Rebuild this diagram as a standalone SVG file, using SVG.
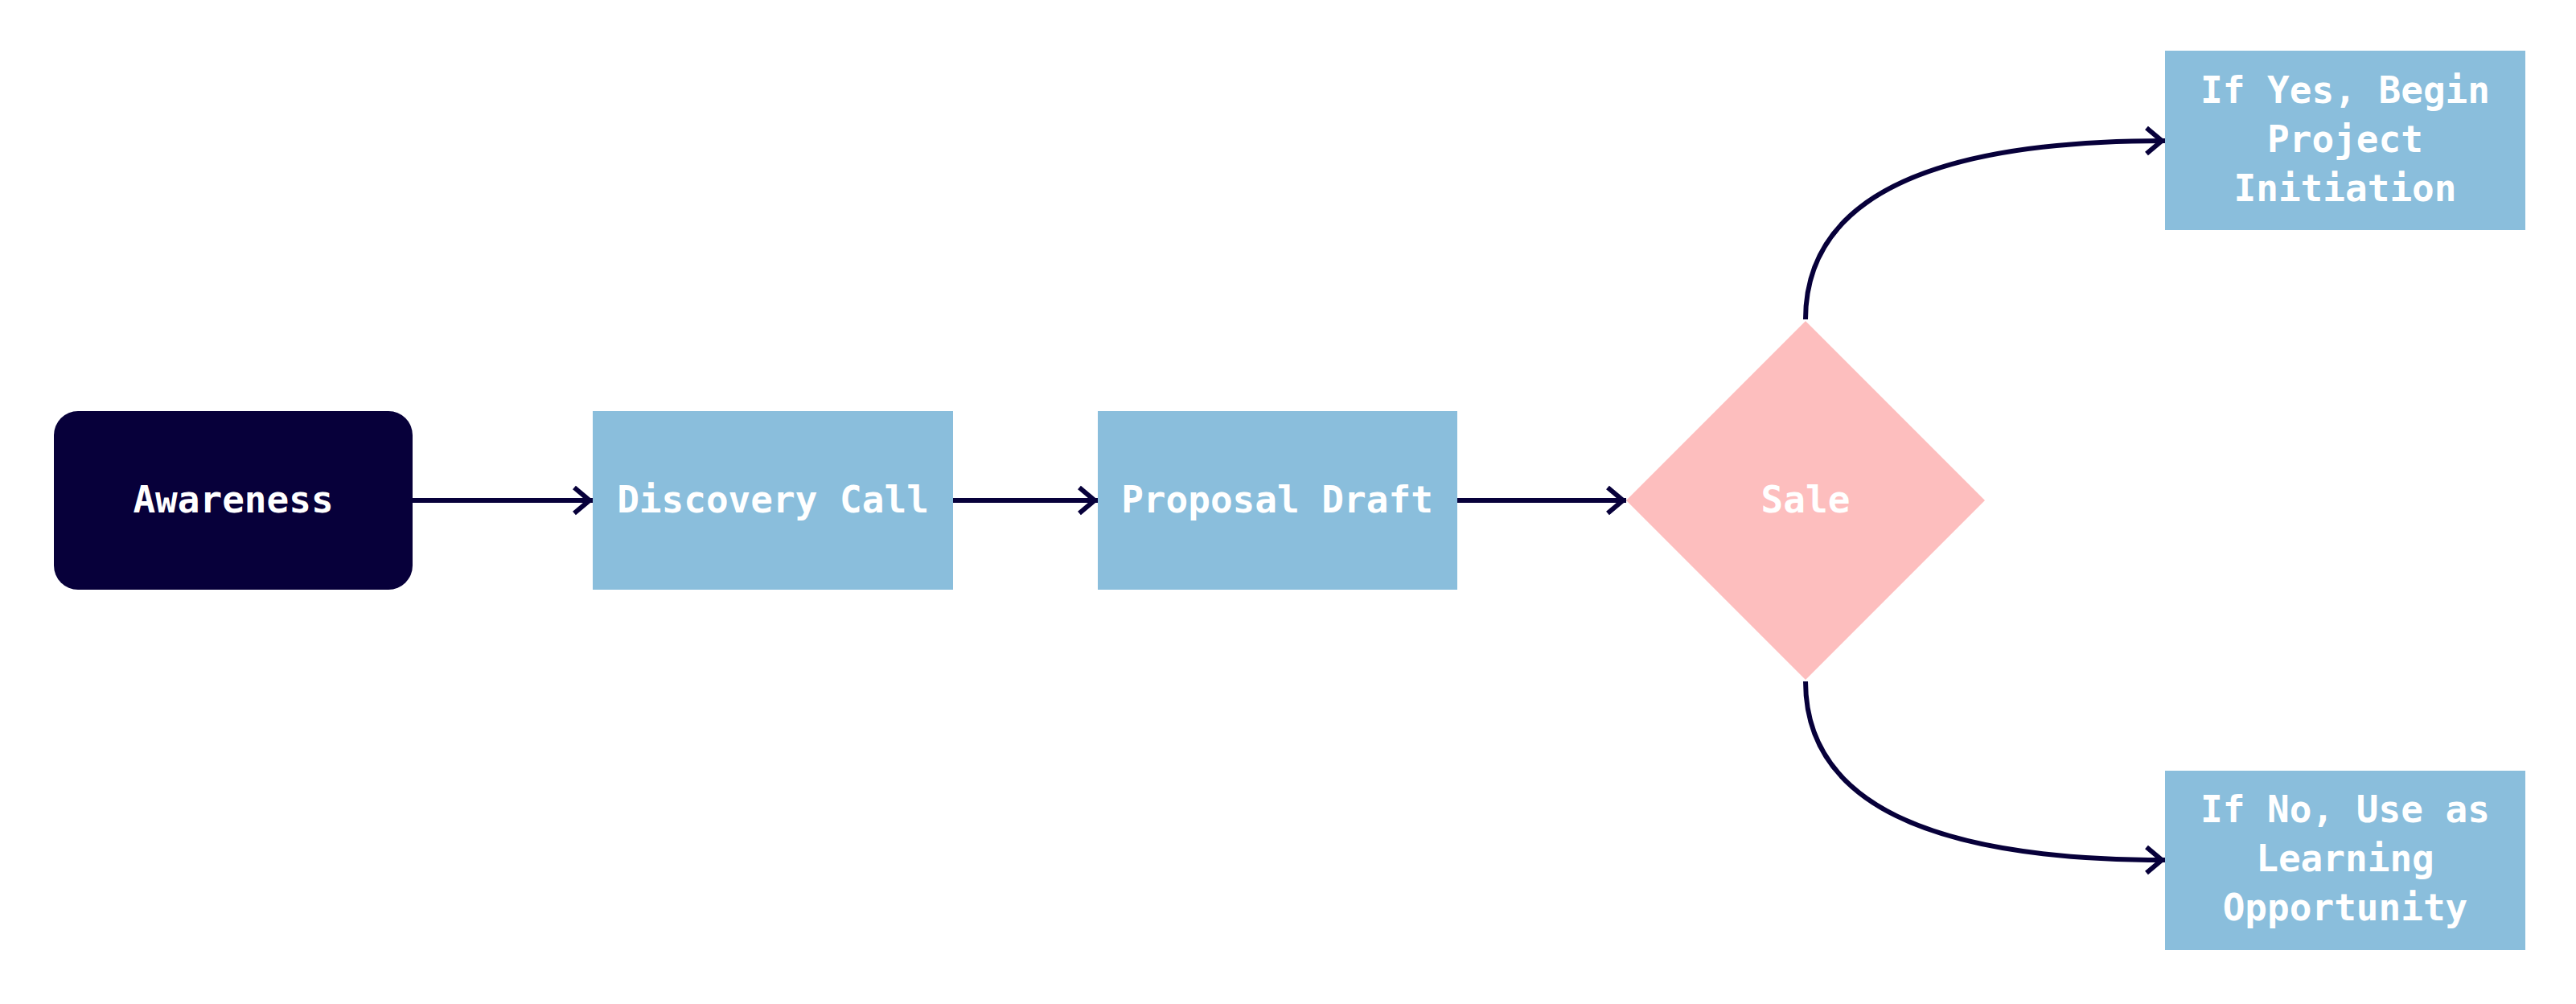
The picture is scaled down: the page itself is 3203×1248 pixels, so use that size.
<svg xmlns="http://www.w3.org/2000/svg" width="3203" height="1248" viewBox="0 0 3203 1248">
<style>
.lbl{font-family:"DejaVu Sans Mono","Liberation Mono",monospace;font-weight:bold;font-size:46px;fill:#ffffff;text-anchor:middle}
.box{fill:#8abedc}
.edge{fill:none;stroke:#07003a;stroke-width:6}
</style>
<defs>
<marker id="arr" markerUnits="userSpaceOnUse" markerWidth="40" markerHeight="50" viewBox="-30 -25 40 50" refX="0" refY="0" orient="auto" overflow="visible">
<path d="M-23,-16 L-4,0 L-23,16" fill="none" stroke="#07003a" stroke-width="6"/>
</marker>
</defs>
<rect width="3203" height="1248" fill="#ffffff"/>
<g id="connectors">
<path class="edge" d="M513,622 H737" marker-end="url(#arr)"/>
<path class="edge" d="M1185,622 H1365" marker-end="url(#arr)"/>
<path class="edge" d="M1812,622 H2022" marker-end="url(#arr)"/>
<path class="edge" d="M2245,397 Q2245,175 2692,175" marker-end="url(#arr)"/>
<path class="edge" d="M2245,847 Q2245,1069 2692,1069" marker-end="url(#arr)"/>
</g>
<g id="awareness">
<rect x="67" y="511" width="446" height="222" rx="30" ry="30" fill="#07003a"/>
<text class="lbl" x="290" y="637">Awareness</text>
</g>
<g id="discovery">
<rect class="box" x="737" y="511" width="448" height="222"/>
<text class="lbl" x="961" y="637">Discovery Call</text>
</g>
<g id="proposal">
<rect class="box" x="1365" y="511" width="447" height="222"/>
<text class="lbl" x="1588" y="637">Proposal Draft</text>
</g>
<g id="sale">
<polygon points="2245,399 2468,622 2245,845 2022,622" fill="#fdbebe"/>
<text class="lbl" x="2245" y="637">Sale</text>
</g>
<g id="yes">
<rect class="box" x="2692" y="63" width="448" height="223"/>
<text class="lbl" x="2916" y="128">If Yes, Begin</text>
<text class="lbl" x="2916" y="189">Project</text>
<text class="lbl" x="2916" y="250">Initiation</text>
</g>
<g id="no">
<rect class="box" x="2692" y="958" width="448" height="223"/>
<text class="lbl" x="2916" y="1022">If No, Use as</text>
<text class="lbl" x="2916" y="1083">Learning</text>
<text class="lbl" x="2916" y="1144">Opportunity</text>
</g>
</svg>
